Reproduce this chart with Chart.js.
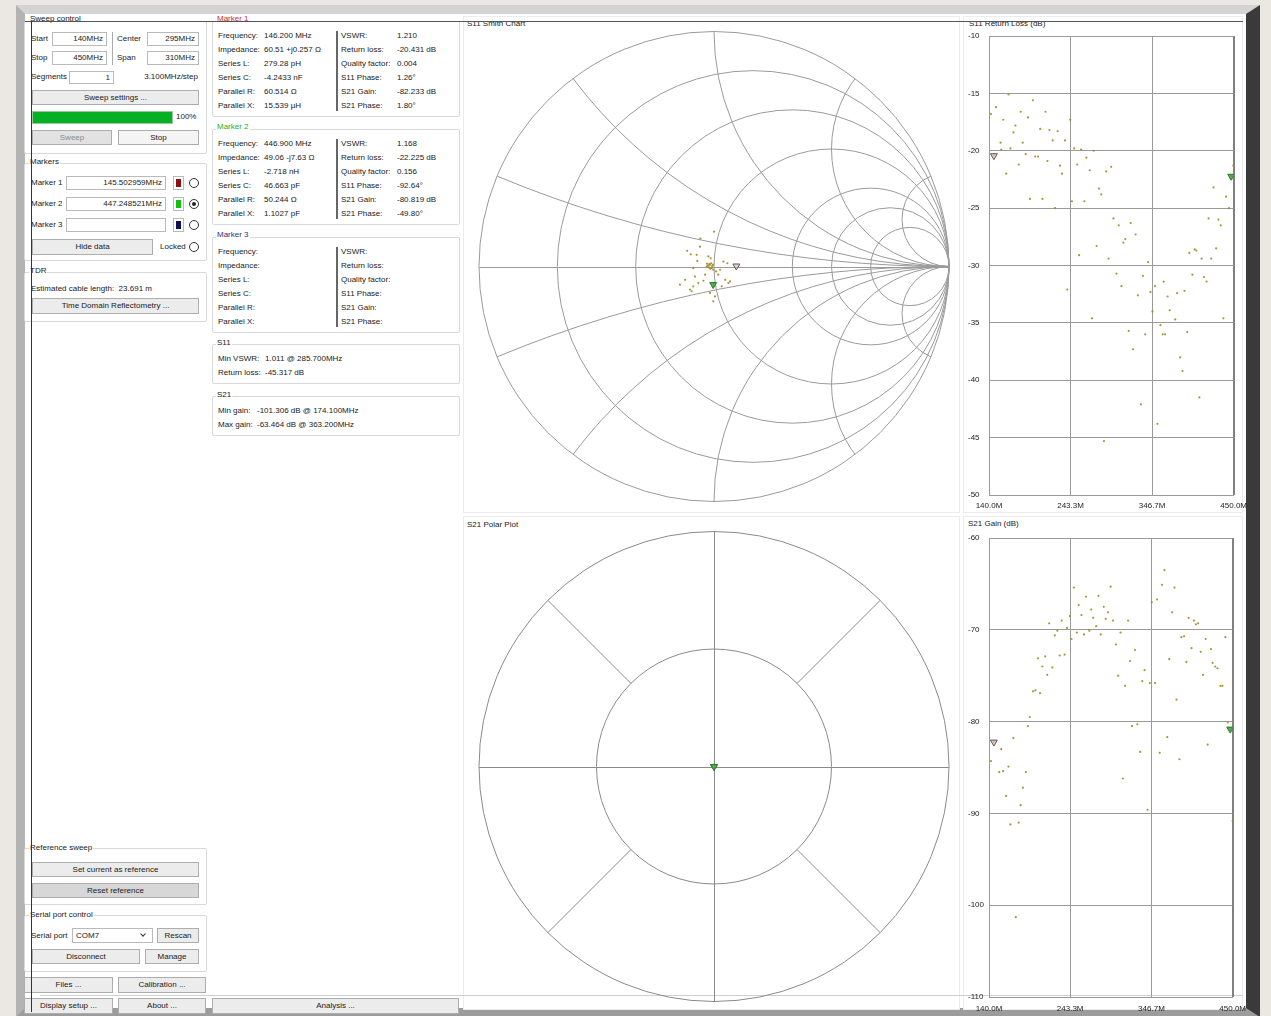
<!DOCTYPE html>
<html>
<head>
<meta charset="utf-8">
<title>NanoVNA-Saver</title>
<script src="https://cdn.jsdelivr.net/npm/chart.js@4.4.1/dist/chart.umd.min.js"></script>
<style>
html, body { margin: 0; padding: 0; }
body {
  width: 1271px; height: 1016px; overflow: hidden; position: relative;
  background: #ebe8e1;
  font: 8px "Liberation Sans", Arial, sans-serif; color: #1a1a1a;
}
#frame {
  position: absolute; left: 16px; top: 5px; width: 1221px; height: 994px;
  border-style: solid; border-width: 9px 14px 9px 9px;
  border-color: #d3d3d3 #3a3a3a #9c9c9c #b3b3b3;
  background: #fff;
}
#ui { position: absolute; left: 0; top: 0; width: 1271px; height: 1016px; }
#ui div { position: absolute; box-sizing: border-box; }
.lbl { white-space: nowrap; line-height: 10px; }
.ttl { background: #fff; padding: 0 1px; }
.grp { border: 1px solid #d9d9d9; border-radius: 2px; }
.btn { border: 1px solid #adadad; background: #ececec; text-align: center; white-space: nowrap; }
.inp { border: 1px solid #bababa; background: #fff; text-align: right; padding-right: 3px; white-space: nowrap; }
.panel { background: #fff; border: 1px solid #ececec; }
.radio { width: 10px; height: 10px; border: 1px solid #333; border-radius: 50%; background: #fff; }
.line { background: #444; }
canvas { position: absolute; }
</style>
</head>
<body>
<div id="frame"></div>
<div id="ui"></div>
<canvas id="smith" width="497" height="484" style="left:463px;top:28px"></canvas>
<canvas id="polar" width="497" height="484" style="left:463px;top:528px"></canvas>
<canvas id="rl" width="290" height="490" style="left:963px;top:28px"></canvas>
<canvas id="gain" width="290" height="488" style="left:963px;top:528px"></canvas>
<script>
// sweep points, S11 return loss (dB)
const rlFreq = [140.0,142.5,146.2,148.8,154.6,155.5,158.0,161.8,164.7,167.2,
  171.0,173.5,177.7,180.2,182.7,186.5,189.4,191.9,195.6,198.6,
  202.3,204.9,207.8,211.5,214.1,216.6,220.7,223.7,227.0,230.0,
  232.5,236.2,239.2,242.9,245.0,247.9,251.7,254.2,256.7,260.9,
  263.4,267.6,270.5,272.6,276.4,279.3,282.2,285.7,288.5,291.4,
  294.8,297.7,301.5,304.4,307.8,310.3,312.8,317.0,319.5,322.4,
  325.8,328.7,332.4,335.0,337.9,341.7,344.6,347.1,350.5,353.4,
  357.2,360.1,361.3,363.1,366.3,368.9,376.0,378.5,382.3,385.2,
  387.7,391.1,393.9,397.7,400.6,402.7,406.5,409.4,412.3,415.7,
  418.2,421.5,424.5,427.8,430.7,433.7,437.0,440.4,444.1,446.9,449.6];
const rlDb = [-17.1,-16.8,-20.4,-16.2,-19.3,-19.9,-17.3,-22.0,-15.1,-19.8,
  -18.4,-17.8,-21.2,-16.6,-19.3,-20.3,-17.1,-24.2,-15.6,-20.5,
  -20.5,-18.1,-24.2,-16.6,-20.9,-18.2,-19.1,-25.0,-18.3,-21.3,
  -22.0,-19.1,-32.1,-17.3,-24.4,-19.8,-21.2,-29.1,-19.9,-24.4,
  -20.6,-21.7,-34.6,-20.0,-28.3,-23.3,-23.8,-45.3,-21.8,-29.4,
  -21.4,-25.9,-30.7,-26.5,-31.8,-28.0,-27.7,-35.7,-26.3,-37.3,
  -27.3,-32.6,-42.1,-30.9,-36.0,-29.7,-32.3,-34.0,-31.8,-43.8,
  -35.2,-36.0,-31.4,-36.0,-32.7,-33.9,-34.7,-32.4,-38.0,-39.2,
  -32.2,-35.8,-28.9,-30.8,-28.6,-28.7,-41.5,-29.4,-31.0,-31.4,
  -25.9,-29.4,-23.2,-28.5,-26.0,-26.5,-34.6,-24.0,-25.0,-22.2,-21.3];

// S21 gain (dB)
const gainFreq = [140.0,142.5,146.2,153.0,155.5,158.0,161.8,164.7,167.2,171.0,
  174.1,177.7,180.2,183.1,186.9,189.4,191.9,196.0,199.0,202.3,
  204.9,207.8,211.5,214.1,216.6,220.7,223.7,227.0,230.0,232.5,
  236.2,239.2,242.9,245.0,247.9,251.7,254.2,257.6,260.9,263.4,
  267.6,270.1,272.6,276.4,279.3,282.2,286.0,288.5,291.4,294.8,
  297.7,301.5,304.4,307.3,310.3,313.2,317.0,319.5,322.0,325.8,
  328.7,332.4,335.0,337.9,341.7,344.6,347.1,351.3,353.8,357.2,
  360.1,363.2,366.8,369.3,373.1,376.0,378.5,382.3,384.8,388.2,
  391.1,393.9,397.7,400.6,403.2,406.1,409.4,412.3,415.7,418.2,
  422.4,424.5,427.8,430.7,434.5,437.0,440.8,443.7,446.9,450.0];
const gainDb = [-85.0,-84.3,-82.2,-85.5,-83.0,-85.4,-88.1,-84.9,-91.2,-81.8,
  -101.3,-91.0,-89.1,-87.2,-85.5,-80.5,-79.5,-76.7,-76.6,-73.1,
  -76.9,-74.0,-72.9,-74.9,-69.3,-74.1,-70.6,-70.1,-72.8,-69.0,
  -72.7,-69.8,-68.5,-71.0,-65.4,-70.3,-67.3,-68.4,-70.5,-66.4,
  -70.1,-67.8,-68.7,-69.6,-66.3,-70.5,-67.5,-68.8,-68.1,-65.3,
  -69.0,-71.6,-75.0,-70.3,-86.2,-76.1,-69.0,-73.4,-80.5,-72.2,
  -80.3,-83.3,-75.6,-74.4,-89.6,-75.8,-67.0,-75.8,-66.7,-83.4,
  -65.1,-63.5,-81.7,-73.2,-68.1,-65.4,-77.6,-84.1,-70.8,-70.7,
  -73.5,-68.7,-72.0,-69.0,-69.4,-69.3,-72.4,-74.9,-71.0,-82.5,
  -72.1,-73.6,-74.0,-74.2,-76.1,-76.1,-70.8,-80.1,-80.8,-90.8];

// S11 reflection coefficient (real / imaginary)
const s11Re = [0.000,-0.058,-0.060,-0.099,-0.114,-0.071,-0.024,-0.014,-0.017,-0.031,
  -0.010,-0.003,0.009,0.018,0.026,0.040,0.057,0.048,0.061,0.068,
  -0.045,-0.067,-0.088,-0.102,-0.145,-0.123,-0.081,-0.095,-0.017,0.004,
  -0.003,-0.088,-0.038,0.033,-0.074,-0.020,-0.026,-0.008,-0.022,-0.012,
  -0.030,-0.004,-0.016];
const s11Im = [0.149,0.120,0.085,0.052,0.067,0.024,0.043,0.035,0.007,0.000,
  -0.007,-0.014,-0.021,-0.035,-0.014,0.021,0.014,-0.057,-0.071,-0.064,
  -0.061,-0.071,-0.085,-0.099,-0.078,-0.057,-0.043,-0.106,-0.113,-0.128,
  -0.149,-0.007,-0.035,-0.085,0.050,0.010,0.004,0.002,-0.004,0.014,
  0.012,0.008,-0.010];

// markers
const markerFreq = [146.2, 446.9];
const markerR = [60.51, 49.06];
const markerX = [0.257, -7.63];
const markerRl = [-20.431, -22.225];
const markerGain = [-82.233, -80.819];
const markerS21Phase = [1.80, -49.80];
const markerFill = ['rgba(205,195,195,0.7)', '#4cae4c'];
const markerEdge = ['#6e5050', '#2a7a2a'];

// axes
const freqTicks = [140, 243.3, 346.7, 450];
const rlTicks = [-10, -15, -20, -25, -30, -35, -40, -45, -50];
const gainTicks = [-60, -70, -80, -90, -100, -110];
const smithR = [0.2, 0.5, 1, 2, 3, 5];
const smithX = [0.2, 0.5, 1, 2, 5];

const dotColor = 'rgba(160,138,30,0.9)';
const gridColor = '#9a9a9a';

// ---------- side panels ----------
const ui = document.getElementById('ui');
function add(cls, x, y, w, h, html) {
  const d = document.createElement('div');
  d.className = cls;
  d.style.left = x + 'px';
  d.style.top = y + 'px';
  if (w != null) d.style.width = w + 'px';
  if (h != null) { d.style.height = h + 'px'; d.style.lineHeight = (h - 2) + 'px'; }
  if (html) d.innerHTML = html;
  ui.appendChild(d);
  return d;
}
function text(x, y, s, color) {
  const d = add('lbl', x, y - 5, null, null, s);
  if (color) d.style.color = color;
  return d;
}
function title(x, y, s, color) {
  const d = text(x, y, s, color);
  d.classList.add('ttl');
  return d;
}
function radio(x, y, on) {
  const r = add('radio', x, y, 10, 10);
  if (on) {
    const dot = document.createElement('div');
    Object.assign(dot.style, {left: '2px', top: '2px', width: '4px', height: '4px', borderRadius: '50%', background: '#222'});
    r.appendChild(dot);
  }
}
function swatch(x, y, color) {
  const s = add('inp', x, y, 11, 14);
  s.style.padding = '2px';
  const c = document.createElement('div');
  Object.assign(c.style, {left: '2px', top: '2px', width: '5px', height: '8px', background: color});
  s.appendChild(c);
}

// chart panels
add('panel', 463, 16, 497, 497);
add('panel', 463, 516, 497, 494);
add('panel', 963, 16, 280, 497);
add('panel', 963, 516, 280, 494);
text(467, 24, 'S11 Smith Chart');
text(467, 525, 'S21 Polar Plot');
text(969, 24, 'S11 Return Loss (dB)');
text(968, 524, 'S21 Gain (dB)');

// sweep control
add('grp', 24, 21, 183, 133);
title(29, 19, 'Sweep control');
text(31, 39, 'Start');
add('inp', 52, 32, 55, 14, '140MHz');
add('line', 112, 32, 1, 33).style.background = '#aaa';
text(117, 39, 'Center');
add('inp', 147, 32, 52, 14, '295MHz');
text(31, 58, 'Stop');
add('inp', 52, 51, 55, 14, '450MHz');
text(117, 58, 'Span');
add('inp', 147, 51, 52, 14, '310MHz');
text(31, 77, 'Segments');
add('inp', 69, 71, 45, 13, '1');
add('lbl', 120, 72, 78, null, '3.100MHz/step').style.textAlign = 'right';
add('btn', 32, 90, 167, 15, 'Sweep settings ...');
const bar = add('inp', 32, 111, 141, 13);
bar.style.background = '#06b025';
bar.style.borderColor = '#9bc79f';
text(176, 117, '100%');
const sweepBtn = add('btn', 32, 130, 80, 15, 'Sweep');
sweepBtn.style.color = '#8a8a8a';
sweepBtn.style.background = '#e2e2e2';
add('btn', 118, 130, 81, 15, 'Stop').style.background = '#f4f4f4';

// markers
add('grp', 24, 163, 183, 98);
title(29, 162, 'Markers');
const markerInputs = ['145.502959MHz', '447.248521MHz', ''];
const swatchColors = ['#8b1010', '#12c012', '#101050'];
markerInputs.forEach((v, i) => {
  const y = 176 + i * 21;
  text(31, y + 7, 'Marker ' + (i + 1));
  add('inp', 66, y, 100, 14, v);
  swatch(173, y, swatchColors[i]);
  radio(189, y + 2, i === 1);
});
add('btn', 32, 239, 121, 16, 'Hide data');
text(160, 247, 'Locked');
radio(189, 242, false);

// TDR
add('grp', 24, 272, 183, 50);
title(29, 271, 'TDR');
text(31, 289, 'Estimated cable length:&nbsp; 23.691 m');
add('btn', 32, 298, 167, 16, 'Time Domain Reflectometry ...');

// reference sweep / serial port
add('grp', 24, 848, 183, 57);
title(29, 848, 'Reference sweep');
add('btn', 32, 862, 167, 15, 'Set current as reference');
add('btn', 32, 883, 167, 15, 'Reset reference').style.background = '#d7d7d7';
add('grp', 24, 915, 183, 57);
title(29, 915, 'Serial port control');
text(31, 936, 'Serial port');
const combo = add('inp', 72, 928, 81, 15, 'COM7');
combo.style.textAlign = 'left';
combo.style.paddingLeft = '3px';
const chev = document.createElement('div');
Object.assign(chev.style, {left: '68px', top: '3px', width: '4px', height: '4px', borderRight: '1px solid #333', borderBottom: '1px solid #333', transform: 'rotate(45deg)'});
combo.appendChild(chev);
add('btn', 157, 928, 42, 15, 'Rescan');
add('btn', 32, 949, 108, 15, 'Disconnect');
add('btn', 145, 949, 54, 15, 'Manage');
add('btn', 24, 977, 89, 16, 'Files ...');
add('btn', 118, 977, 88, 16, 'Calibration ...');
add('btn', 24, 998, 89, 16, 'Display setup ...');
add('btn', 118, 998, 88, 16, 'About ...');
add('btn', 212, 998, 247, 16, 'Analysis ...');

// marker readouts
const leftNames = ['Frequency:', 'Impedance:', 'Series L:', 'Series C:', 'Parallel R:', 'Parallel X:'];
const rightNames = ['VSWR:', 'Return loss:', 'Quality factor:', 'S11 Phase:', 'S21 Gain:', 'S21 Phase:'];
const seriesL = ['279.28 pH', '-2.718 nH'];
const seriesC = ['-4.2433 nF', '46.663 pF'];
const parR = ['60.514 &#937;', '50.244 &#937;'];
const parX = ['15.539 &micro;H', '1.1027 pF'];
const vswr = ['1.210', '1.168'];
const qFactor = ['0.004', '0.156'];
const s11Phase = ['1.26&deg;', '-92.64&deg;'];

function markerBox(i, top, name, color) {
  add('grp', 212, top + 2, 248, 96);
  title(216, top, name, color);
  const y0 = top + 17;
  add('line', 336, y0 - 5, 2, 80).style.background = '#666';
  let lv = [], rv = [];
  if (i < 2) {
    const x = markerX[i];
    lv = [markerFreq[i].toFixed(3) + ' MHz',
      markerR[i].toFixed(2) + ' ' + (x < 0 ? '-' : '+') + 'j' + Math.abs(x) + ' &#937;',
      seriesL[i], seriesC[i], parR[i], parX[i]];
    rv = [vswr[i], markerRl[i].toFixed(3) + ' dB', qFactor[i], s11Phase[i],
      markerGain[i].toFixed(3) + ' dB', markerS21Phase[i].toFixed(2) + '&deg;'];
  }
  leftNames.forEach((n, k) => {
    const y = y0 + Math.round(k * 13.9);
    text(218, y, n);
    text(341, y, rightNames[k]);
    if (lv[k]) text(264, y, lv[k]);
    if (rv[k]) text(397, y, rv[k]);
  });
}
markerBox(0, 19, 'Marker 1', '#c83030');
markerBox(1, 127, 'Marker 2', '#22b022');
markerBox(2, 235, 'Marker 3', '#303070');

add('grp', 212, 344, 248, 40);
title(216, 343, 'S11');
text(218, 359, 'Min VSWR:');
text(265, 359, '1.011 @ 285.700MHz');
text(218, 373, 'Return loss:');
text(265, 373, '-45.317 dB');
add('grp', 212, 396, 248, 40);
title(216, 395, 'S21');
text(218, 411, 'Min gain:');
text(257, 411, '-101.306 dB @ 174.100MHz');
text(218, 425, 'Max gain:');
text(257, 425, '-63.464 dB @ 363.200MHz');

// stray layout lines across the window
add('line', 25, 21, 1218, 1).style.background = '#555';
add('line', 31, 21, 1, 991).style.background = '#333';
add('line', 40, 995, 1203, 1).style.background = '#cfcfcf';

// ---------- charts ----------
Chart.defaults.font.family = '"Liberation Sans", Arial, sans-serif';
Chart.defaults.font.size = 8;
Chart.defaults.color = '#222';
Chart.defaults.animation = false;
Chart.defaults.events = [];
Chart.defaults.plugins.legend.display = false;
Chart.defaults.plugins.tooltip.enabled = false;

function markerSet(points) {
  return {
    data: points,
    pointStyle: 'triangle',
    pointRotation: 180,
    pointRadius: 4,
    pointBorderWidth: 1,
    pointBackgroundColor: markerFill,
    pointBorderColor: markerEdge
  };
}
function dotSet(points) {
  return { data: points, pointRadius: 1.1, pointBorderWidth: 0, pointBackgroundColor: dotColor };
}

function rectChart(id, freqs, vals, mVals, yTicks, padTop, xHeight, labelPad) {
  const last = freqTicks.length - 1;
  return new Chart(document.getElementById(id), {
    type: 'scatter',
    data: {
      datasets: [
        markerSet(markerFreq.map((f, i) => ({x: f, y: mVals[i]}))),
        dotSet(freqs.map((f, i) => ({x: f, y: vals[i]})))
      ]
    },
    options: {
      responsive: false,
      devicePixelRatio: 1,
      layout: { padding: { left: 5, right: 17, top: padTop, bottom: 0 } },
      scales: {
        x: {
          type: 'linear', min: freqTicks[0], max: freqTicks[last],
          afterBuildTicks: s => { s.ticks = freqTicks.map(v => ({value: v})); },
          afterFit: s => { s.height = xHeight; },
          ticks: { padding: labelPad, maxRotation: 0, autoSkip: false, callback: v => v.toFixed(1) + 'M' },
          grid: { drawTicks: false, color: ctx => ctx.index === last ? '#808080' : gridColor, lineWidth: ctx => ctx.index === last ? 2 : 1 },
          border: { color: gridColor }
        },
        y: {
          min: yTicks[yTicks.length - 1], max: yTicks[0],
          afterBuildTicks: s => { s.ticks = yTicks.map(v => ({value: v})); },
          afterFit: s => { s.width = 21; },
          ticks: { crossAlign: 'far', padding: 0 },
          grid: { drawTicks: false, color: gridColor },
          border: { color: gridColor }
        }
      }
    }
  });
}
rectChart('rl', rlFreq, rlDb, markerRl, rlTicks, 8, 23, 6);
rectChart('gain', gainFreq, gainDb, markerGain, gainTicks, 10, 19, 7);

// Smith chart grid: constant resistance circles and reactance arcs
const smithGrid = {
  id: 'smithGrid',
  beforeDatasetsDraw(chart) {
    const {ctx, scales: {x, y}} = chart;
    const cx = x.getPixelForValue(0), cy = y.getPixelForValue(0);
    const R = x.getPixelForValue(1) - cx;
    ctx.save();
    ctx.strokeStyle = gridColor;
    ctx.lineWidth = 1;
    ctx.beginPath();
    ctx.arc(cx, cy, R, 0, 2 * Math.PI);
    ctx.stroke();
    ctx.beginPath();
    ctx.moveTo(cx - R, Math.round(cy) + 0.5);
    ctx.lineTo(cx + R, Math.round(cy) + 0.5);
    ctx.stroke();
    smithR.forEach(r => {
      ctx.beginPath();
      ctx.arc(cx + R * r / (1 + r), cy, R / (1 + r), 0, 2 * Math.PI);
      ctx.stroke();
    });
    ctx.beginPath();
    ctx.arc(cx, cy, R, 0, 2 * Math.PI);
    ctx.clip();
    smithX.forEach(xv => {
      [1, -1].forEach(sign => {
        ctx.beginPath();
        ctx.arc(cx + R, cy - sign * R / xv, R / xv, 0, 2 * Math.PI);
        ctx.stroke();
      });
    });
    ctx.restore();
  }
};

// polar grid: two rings, cross and diagonals
const polarGrid = {
  id: 'polarGrid',
  beforeDatasetsDraw(chart) {
    const {ctx, scales: {x, y}} = chart;
    const cx = x.getPixelForValue(0), cy = y.getPixelForValue(0);
    const R = x.getPixelForValue(1) - cx;
    ctx.save();
    ctx.strokeStyle = '#8a8a8a';
    ctx.lineWidth = 1;
    [1, 0.5].forEach(f => {
      ctx.beginPath();
      ctx.arc(cx, cy, R * f, 0, 2 * Math.PI);
      ctx.stroke();
    });
    ctx.beginPath();
    ctx.moveTo(cx - R, Math.round(cy) + 0.5);
    ctx.lineTo(cx + R, Math.round(cy) + 0.5);
    ctx.moveTo(Math.round(cx) + 0.5, cy - R);
    ctx.lineTo(Math.round(cx) + 0.5, cy + R);
    [45, 135, 225, 315].forEach(a => {
      const c = Math.cos(a * Math.PI / 180), s = Math.sin(a * Math.PI / 180);
      ctx.moveTo(cx + c * R / 2, cy + s * R / 2);
      ctx.lineTo(cx + c * R, cy + s * R);
    });
    ctx.stroke();
    ctx.restore();
  }
};

function roundChart(id, datasets, plugin) {
  return new Chart(document.getElementById(id), {
    type: 'scatter',
    data: { datasets },
    options: {
      responsive: false,
      devicePixelRatio: 1,
      layout: { padding: { left: 16, right: 11, top: 2, bottom: 12 } },
      scales: {
        x: { min: -1, max: 1, display: false },
        y: { min: -1, max: 1, display: false }
      }
    },
    plugins: [plugin]
  });
}

// marker reflection coefficients from their impedances (50 ohm)
const markerGamma = markerR.map((r, i) => {
  const zr = r / 50, zi = markerX[i] / 50;
  const dr = zr + 1, den = dr * dr + zi * zi;
  return { x: ((zr - 1) * dr + zi * zi) / den, y: (zi * dr - (zr - 1) * zi) / den };
});
roundChart('smith', [
  markerSet(markerGamma),
  dotSet(s11Re.map((re, i) => ({x: re, y: s11Im[i]})))
], smithGrid);

const markerS21 = markerGain.map((g, i) => {
  const mag = Math.pow(10, g / 20), ph = markerS21Phase[i] * Math.PI / 180;
  return { x: mag * Math.cos(ph), y: mag * Math.sin(ph) };
});
roundChart('polar', [markerSet(markerS21)], polarGrid);
</script>
</body>
</html>
